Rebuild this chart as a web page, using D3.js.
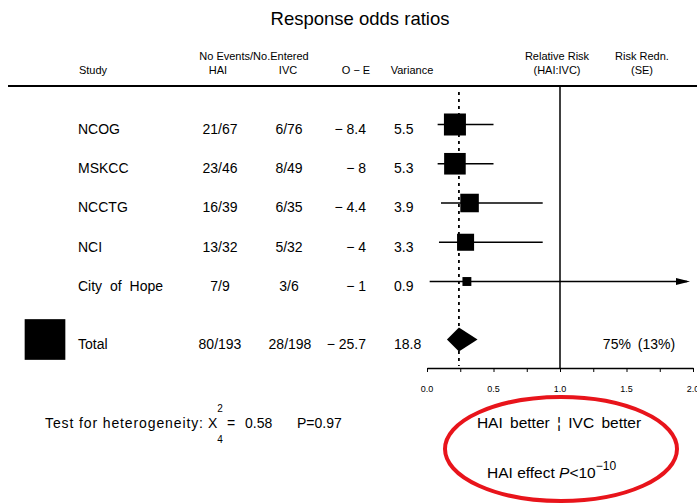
<!DOCTYPE html>
<html>
<head>
<meta charset="utf-8">
<script src="https://cdnjs.cloudflare.com/ajax/libs/d3/7.8.5/d3.min.js"></script>
<style>
  body { margin: 0; background: #fff; }
  svg { font-family: "Liberation Sans", Arial, sans-serif; }
</style>
</head>
<body>
<div id="chart"></div>
<script>
// study rows
var studies = ["NCOG", "MSKCC", "NCCTG", "NCI", "City of Hope"];
var haiEvents = ["21/67", "23/46", "16/39", "13/32", "7/9"];
var ivcEvents = ["6/76", "8/49", "6/35", "5/32", "3/6"];
var oMinusE = [-8.4, -8, -4.4, -4, -1];
var variance = [5.5, 5.3, 3.9, 3.3, 0.9];
var oddsRatio = [0.21, 0.21, 0.32, 0.29, 0.30];
var ciLow = [0.08, 0.08, 0.105, 0.09, 0.02];
var ciHigh = [0.50, 0.50, 0.87, 0.87, 2.0];
var ciArrow = [false, false, false, false, true];

// total row
var totalHai = "80/193", totalIvc = "28/198";
var totalOE = -25.7, totalVar = 18.8;
var totalOR = 0.24, totalLow = 0.15, totalHigh = 0.38;
var totalRedn = "75% (13%)";

var tickValues = [0, 0.25, 0.5, 0.75, 1, 1.25, 1.5, 1.75, 2];
var tickLabels = ["0.0", "0.5", "1.0", "1.5", "2.0"];

!(function(){
    "use strict";

    var W = 697, H = 504;
    var svg = d3.select("#chart").append("svg")
        .attr("width", W).attr("height", H);

    var x = d3.scaleLinear().domain([0, 2]).range([427, 693]);
    var y = d3.scaleLinear().domain([0, 4]).range([129, 286]);
    var size = d3.scaleSqrt().domain([0, 5.5]).range([0, 22]);
    var totalY = 344, markOff = -4.5;

    function fmtOE(v) { return "\u2212 " + Math.abs(v); }

    // title
    svg.append("text").attr("x", 360).attr("y", 25)
        .attr("text-anchor", "middle").attr("font-size", 18.5)
        .text("Response odds ratios");

    // column headers
    var hdr = [
        {t: "Study", x: 93, y: 74},
        {t: "No Events/No.Entered", x: 254, y: 60},
        {t: "HAI", x: 218, y: 74},
        {t: "IVC", x: 288, y: 74},
        {t: "O \u2212 E", x: 356, y: 74},
        {t: "Variance", x: 412, y: 74},
        {t: "Relative Risk", x: 557, y: 60},
        {t: "(HAI:IVC)", x: 557, y: 74},
        {t: "Risk Redn.", x: 642, y: 60},
        {t: "(SE)", x: 642, y: 74}
    ];
    svg.selectAll(".hdr").data(hdr).enter().append("text")
        .attr("x", function(d){ return d.x; })
        .attr("y", function(d){ return d.y; })
        .attr("text-anchor", "middle")
        .attr("font-size", 11)
        .text(function(d){ return d.t; });

    svg.append("line").attr("x1", 8).attr("x2", 697).attr("y1", 86).attr("y2", 86)
        .attr("stroke", "#000").attr("stroke-width", 2);

    // reference lines
    svg.append("line").attr("x1", x(1)).attr("x2", x(1)).attr("y1", 86).attr("y2", 368)
        .attr("stroke", "#000").attr("stroke-width", 1.5);
    svg.append("line").attr("x1", x(totalOR)).attr("x2", x(totalOR)).attr("y1", 92).attr("y2", 366)
        .attr("stroke", "#000").attr("stroke-width", 1.8).attr("stroke-dasharray", "3,4");

    // table rows
    var rows = svg.selectAll(".row").data(studies).enter().append("g")
        .attr("transform", function(d, i){ return "translate(0," + y(i) + ")"; })
        .attr("font-size", 14);
    rows.append("text").attr("x", 78).attr("dy", "0.35em").attr("word-spacing", 4)
        .text(function(d){ return d; });
    rows.append("text").attr("x", 220).attr("dy", "0.35em").attr("text-anchor", "middle")
        .text(function(d, i){ return haiEvents[i]; });
    rows.append("text").attr("x", 289).attr("dy", "0.35em").attr("text-anchor", "middle")
        .text(function(d, i){ return ivcEvents[i]; });
    rows.append("text").attr("x", 366).attr("dy", "0.35em").attr("text-anchor", "end")
        .text(function(d, i){ return fmtOE(oMinusE[i]); });
    rows.append("text").attr("x", 394).attr("dy", "0.35em")
        .text(function(d, i){ return variance[i].toFixed(1); });

    // CI lines
    rows.append("line")
        .attr("x1", function(d, i){ return x(ciLow[i]); })
        .attr("x2", function(d, i){ return ciArrow[i] ? x(ciHigh[i]) - 6 : x(ciHigh[i]); })
        .attr("y1", markOff).attr("y2", markOff)
        .attr("stroke", "#000").attr("stroke-width", 1.3);
    rows.filter(function(d, i){ return ciArrow[i]; }).append("path")
        .attr("d", function(d){
            var k = studies.indexOf(d);
            var xe = x(ciHigh[k]) - 3;
            return "M" + (xe - 14) + "," + (markOff - 3.5) + "L" + xe + "," + markOff + "L" + (xe - 14) + "," + (markOff + 3.5) + "Z";
        })
        .attr("fill", "#000");
    rows.append("rect")
        .attr("x", function(d, i){ return x(oddsRatio[i]) - size(variance[i]) / 2; })
        .attr("y", function(d, i){ return markOff - size(variance[i]) / 2; })
        .attr("width", function(d, i){ return size(variance[i]); })
        .attr("height", function(d, i){ return size(variance[i]); })
        .attr("fill", "#000");

    // total row
    var tot = svg.append("g").attr("transform", "translate(0," + totalY + ")").attr("font-size", 14);
    var ts = size(totalVar);
    tot.append("rect").attr("x", 45 - ts / 2).attr("y", markOff - ts / 2)
        .attr("width", ts).attr("height", ts).attr("fill", "#000");
    tot.append("text").attr("x", 78).attr("dy", "0.35em").text("Total");
    tot.append("text").attr("x", 220).attr("dy", "0.35em").attr("text-anchor", "middle").text(totalHai);
    tot.append("text").attr("x", 290).attr("dy", "0.35em").attr("text-anchor", "middle").text(totalIvc);
    tot.append("text").attr("x", 366).attr("dy", "0.35em").attr("text-anchor", "end").text(fmtOE(totalOE));
    tot.append("text").attr("x", 394).attr("dy", "0.35em").text(totalVar.toFixed(1));
    tot.append("path")
        .attr("d", "M" + x(totalLow) + "," + markOff + "L" + x(totalOR) + "," + (markOff - 12) +
            "L" + x(totalHigh) + "," + markOff + "L" + x(totalOR) + "," + (markOff + 12) + "Z")
        .attr("fill", "#000");
    tot.append("text").attr("x", 639).attr("dy", "0.35em").attr("text-anchor", "middle")
        .attr("word-spacing", 3).text(totalRedn);

    // axis
    var axis = d3.axisBottom(x).tickValues(tickValues).tickSize(4).tickSizeOuter(0)
        .tickFormat("");
    var ag = svg.append("g").attr("transform", "translate(0,368)").call(axis);
    ag.select(".domain").attr("stroke-width", 1.3);
    svg.selectAll(".tlab").data(tickLabels).enter().append("text")
        .attr("x", function(d){ return x(+d); })
        .attr("y", 392)
        .attr("text-anchor", "middle")
        .attr("font-size", 9)
        .text(function(d){ return d; });

    // heterogeneity
    var het = svg.append("g").attr("font-size", 14);
    het.append("text").attr("x", 45).attr("y", 428).attr("textLength", 158)
        .text("Test for heterogeneity:");
    het.append("text").attr("x", 208).attr("y", 428).text("X");
    het.append("text").attr("x", 220).attr("y", 412).attr("font-size", 10).attr("text-anchor", "middle").text("2");
    het.append("text").attr("x", 220).attr("y", 443).attr("font-size", 10).attr("text-anchor", "middle").text("4");
    het.append("text").attr("x", 227).attr("y", 428).text("=");
    het.append("text").attr("x", 245).attr("y", 428).text("0.58");
    het.append("text").attr("x", 297).attr("y", 428).text("P=0.97");

    // annotation
    svg.append("text").attr("x", 559).attr("y", 428).attr("font-size", 15.5)
        .attr("text-anchor", "middle").attr("word-spacing", 3).text("HAI better \u00A6 IVC better");
    var pe = svg.append("text").attr("x", 487).attr("y", 478).attr("font-size", 15.5);
    pe.append("tspan").text("HAI effect ");
    pe.append("tspan").attr("font-style", "italic").text("P");
    pe.append("tspan").text("<10");
    pe.append("tspan").attr("dy", -8).attr("font-size", 12).text("\u221210");

    svg.append("ellipse").attr("cx", 561).attr("cy", 449).attr("rx", 116).attr("ry", 52)
        .attr("fill", "none").attr("stroke", "#e8141b").attr("stroke-width", 4);
}());
</script>
</body>
</html>
